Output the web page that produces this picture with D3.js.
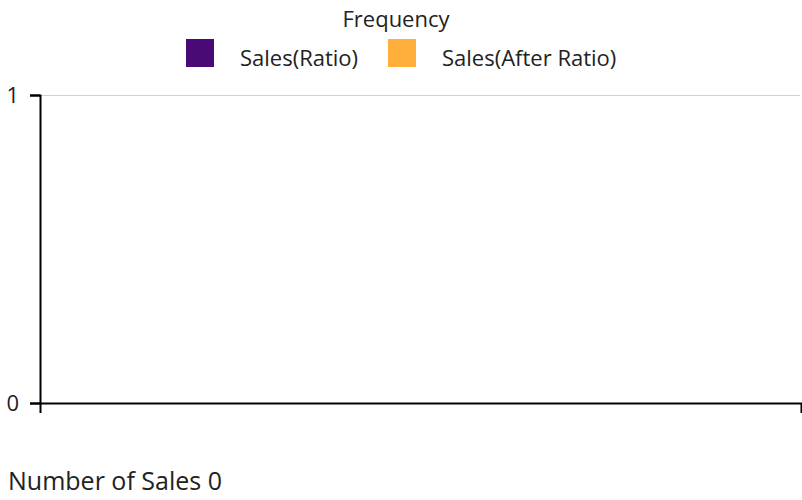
<!DOCTYPE html>
<html>
<head>
<meta charset="utf-8">
<script src="https://cdn.jsdelivr.net/npm/d3@7"></script>
<style>
  body { margin: 0; background: #fff; }
  svg text { font-family: "Open Sans", "Noto Sans", sans-serif; fill: #222; }
</style>
</head>
<body>
<div id="chart"></div>
<script>
// chart data (nothing was sold, so the bar list is empty)
var categories = [];
var salesRatio = [];
var salesAfterRatio = [];
var seriesNames = ["Sales(Ratio)", "Sales(After Ratio)"];
var seriesColors = ["#4a0a75", "#ffad3b"];
var yTicks = [0, 1];
var chartTitle = "Frequency";
var xLabel = "Number of Sales 0";

var width = 802, height = 500;
var margin = {top: 95, right: 1, bottom: 97, left: 40};

var svg = d3.select("#chart").append("svg")
    .attr("width", width)
    .attr("height", height);

var x = d3.scaleBand()
    .domain(categories)
    .range([margin.left, width - margin.right])
    .padding(0.2);

var x1 = d3.scaleBand()
    .domain(seriesNames)
    .range([0, x.bandwidth()])
    .padding(0.05);

var y = d3.scaleLinear()
    .domain([0, 1])
    .range([height - margin.bottom, margin.top]);

// gridline at top
svg.append("g")
    .selectAll("line")
    .data(yTicks.filter(function(d) { return d > 0; }))
    .enter().append("line")
    .attr("x1", margin.left)
    .attr("x2", width - 2)
    .attr("y1", function(d) { return y(d) + 0.5; })
    .attr("y2", function(d) { return y(d) + 0.5; })
    .attr("stroke", "#d0d0d0")
    .attr("stroke-width", 1);

// bars
var groups = svg.append("g")
    .selectAll("g")
    .data(categories)
    .enter().append("g")
    .attr("transform", function(d) { return "translate(" + x(d) + ",0)"; });

groups.selectAll("rect")
    .data(function(d, i) { return [salesRatio[i], salesAfterRatio[i]]; })
    .enter().append("rect")
    .attr("x", function(d, j) { return x1(seriesNames[j]); })
    .attr("y", function(d) { return y(d); })
    .attr("width", x1.bandwidth())
    .attr("height", function(d) { return y(0) - y(d); })
    .attr("fill", function(d, j) { return seriesColors[j]; });

// axes
var yAxis = svg.append("g")
    .attr("transform", "translate(" + margin.left + ",0)")
    .call(d3.axisLeft(y).tickValues(yTicks).tickFormat(d3.format("d")).tickSize(10).tickPadding(11));

var xAxis = svg.append("g")
    .attr("transform", "translate(0," + (height - margin.bottom) + ")")
    .call(d3.axisBottom(x).tickSize(10));

[xAxis, yAxis].forEach(function(a) {
    a.attr("font-size", 22).attr("font-family", null);
    a.selectAll("path, line").attr("stroke", "#000").attr("stroke-width", 2);
    a.selectAll("text").style("font-size", "22px").attr("fill", "#222");
});
yAxis.selectAll("text").attr("dy", "0.35em");

// title
svg.append("text")
    .attr("x", width / 2 - 5)
    .attr("y", 27)
    .attr("text-anchor", "middle")
    .style("font-size", "22px")
    .text(chartTitle);

// legend
var legendX = [186, 388];
var legend = svg.append("g")
    .selectAll("g")
    .data(seriesNames)
    .enter().append("g")
    .attr("transform", function(d, i) { return "translate(" + legendX[i] + ",39)"; });

legend.append("rect")
    .attr("width", 28)
    .attr("height", 28)
    .attr("fill", function(d, i) { return seriesColors[i]; });

legend.append("text")
    .attr("x", 54)
    .attr("y", 27)
    .style("font-size", "22px")
    .text(function(d) { return d; });

// x label
svg.append("text")
    .attr("x", 8)
    .attr("y", 490)
    .style("font-size", "25px")
    .text(xLabel);
</script>
</body>
</html>
